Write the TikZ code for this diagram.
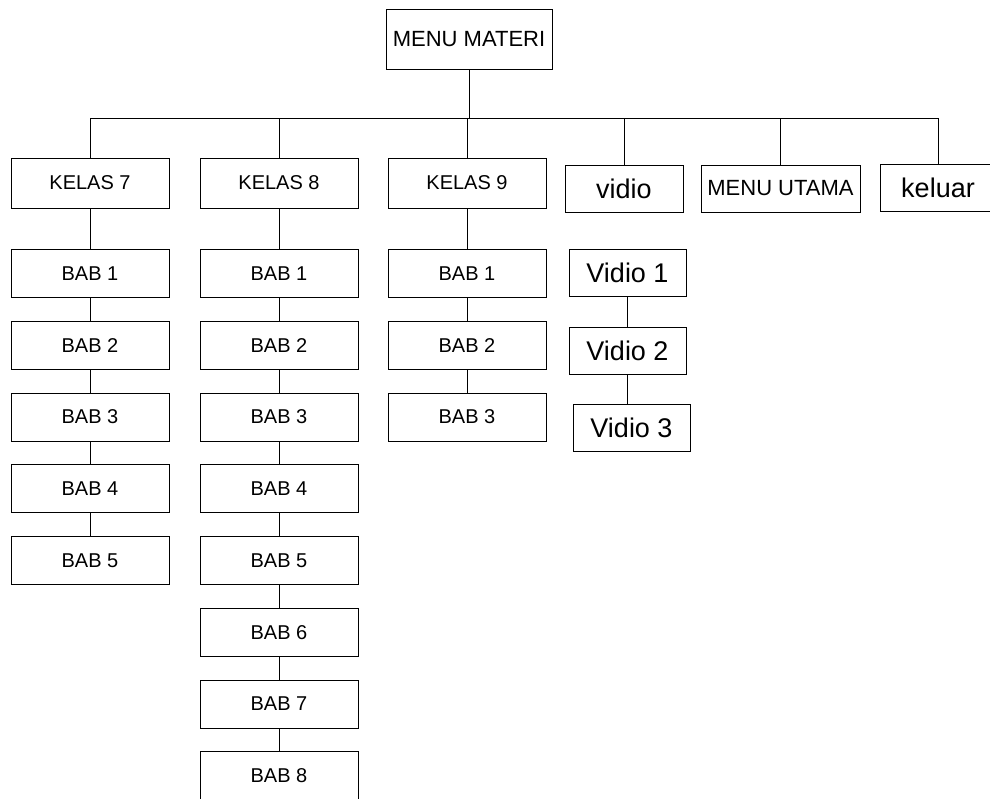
\documentclass[tikz,border=0pt]{standalone}
\usepackage{fontspec}
\setmainfont{Liberation Sans}
\usetikzlibrary{positioning}
\tikzset{
  box/.style={draw,inner sep=0pt,minimum width=158pt,minimum height=48pt,font=\fontsize{20}{22}\selectfont},
  bigbox/.style={draw,inner sep=0pt,minimum width=117pt,minimum height=47pt,font=\fontsize{27}{29}\selectfont},
  menu/.style={font=\fontsize{22}{24}\selectfont},
  ln/.style={line width=0.7pt},
}
\begin{document}
\begin{tikzpicture}[x=1pt,y=-1pt,node distance=23pt,line width=0.7pt]
 \useasboundingbox (0,0) rectangle (990,798);
 \clip (0,0) rectangle (990,798);
 % top
 \node[box,menu,minimum width=166pt,minimum height=60pt] (mm) at (469,39) {MENU MATERI};
 \coordinate (bus) at (469,118);
 % first row
 \node[box,minimum height=50pt] (k7) at (90,183) {KELAS 7};
 \node[box,minimum height=50pt] (k8) at (279,183) {KELAS 8};
 \node[box,minimum height=50pt] (k9) at (467,183) {KELAS 9};
 \node[bigbox,minimum width=118pt] (vid) at (624,188.5) {vidio};
 \node[box,menu,minimum width=159pt,minimum height=47pt] (mu) at (780.5,188.5) {MENU UTAMA};
 \node[bigbox,minimum width=116pt] (kel) at (938,188) {keluar};
 % kelas 7
 \node[box,below=41pt of k7] (a1) {BAB 1};
 \node[box,below=of a1] (a2) {BAB 2};
 \node[box,below=of a2] (a3) {BAB 3};
 \node[box,below=of a3] (a4) {BAB 4};
 \node[box,below=of a4] (a5) {BAB 5};
 % kelas 8
 \node[box,below=41pt of k8] (b1) {BAB 1};
 \node[box,below=of b1] (b2) {BAB 2};
 \node[box,below=of b2] (b3) {BAB 3};
 \node[box,below=of b3] (b4) {BAB 4};
 \node[box,below=of b4] (b5) {BAB 5};
 \node[box,below=of b5] (b6) {BAB 6};
 \node[box,below=of b6] (b7) {BAB 7};
 \node[box,below=of b7] (b8) {BAB 8};
 % kelas 9
 \node[box,below=41pt of k9] (c1) {BAB 1};
 \node[box,below=of c1] (c2) {BAB 2};
 \node[box,below=of c2] (c3) {BAB 3};
 % vidio
 \node[bigbox] (v1) at (627.5,272.5) {Vidio 1};
 \node[bigbox,below=31pt of v1] (v2) {Vidio 2};
 \node[bigbox,below=29pt of v2,xshift=4pt] (v3) {Vidio 3};
 % connectors
 \draw[ln] (mm.south) -- (bus);
 \draw[ln] (k7.north |- bus) -- (kel.north |- bus);
 \draw[ln] (k7.north) -- (k7.north |- bus);
 \draw[ln] (k8.north) -- (k8.north |- bus);
 \draw[ln] (k9.north) -- (k9.north |- bus);
 \draw[ln] (vid.north) -- (vid.north |- bus);
 \draw[ln] (mu.north) -- (mu.north |- bus);
 \draw[ln] (kel.north) -- (kel.north |- bus);
 \draw[ln] (k7) -- (a1) (a1) -- (a2) (a2) -- (a3) (a3) -- (a4) (a4) -- (a5);
 \draw[ln] (k8) -- (b1) (b1) -- (b2) (b2) -- (b3) (b3) -- (b4) (b4) -- (b5)
   (b5) -- (b6) (b6) -- (b7) (b7) -- (b8);
 \draw[ln] (k9) -- (c1) (c1) -- (c2) (c2) -- (c3);
 \draw[ln] (v1) -- (v2);
 \draw[ln] (v2.south) -- (v2.south |- v3.north);
\end{tikzpicture}
\end{document}
